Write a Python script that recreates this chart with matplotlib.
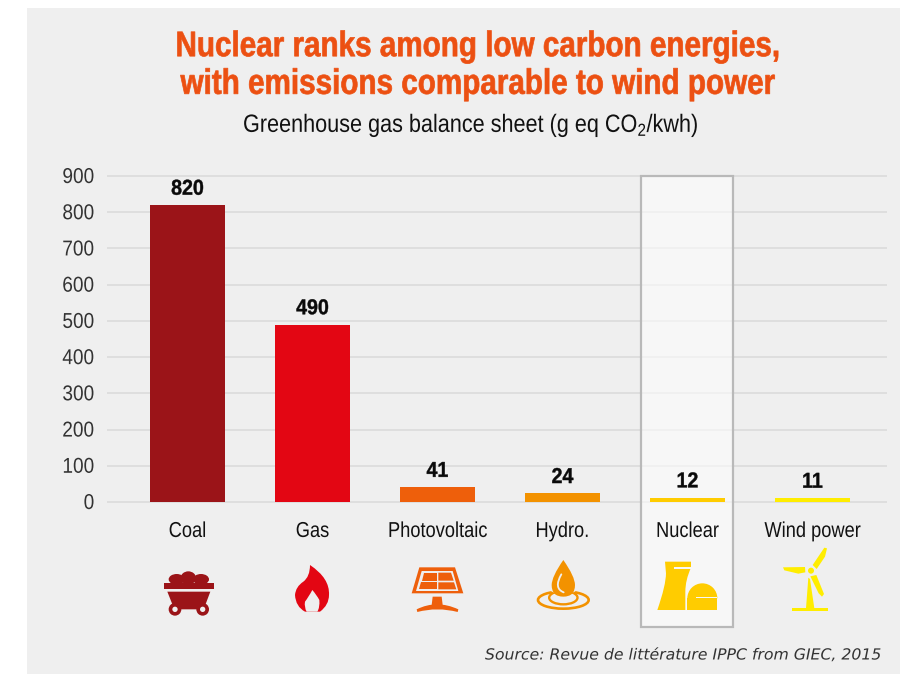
import matplotlib
matplotlib.use("Agg")
import matplotlib.pyplot as plt
from matplotlib.patches import Rectangle, Polygon, Circle, Ellipse, PathPatch, Wedge
from matplotlib.path import Path
from matplotlib.patheffects import AbstractPathEffect
from matplotlib.transforms import Affine2D

categories = ["Coal", "Gas", "Photovoltaic", "Hydro.", "Nuclear", "Wind power"]
values = [820, 490, 41, 24, 12, 11]
bar_colors = ["#9b1418", "#e30613", "#ee5f0b", "#f39200", "#ffcc00", "#ffed00"]
yticks = [0, 100, 200, 300, 400, 500, 600, 700, 800, 900]
title = "Nuclear ranks among low carbon energies,\nwith emissions comparable to wind power"
subtitle = "Greenhouse gas balance sheet (g eq CO$_2$/kwh)"
source = "Source: Revue de littérature IPPC from GIEC, 2015"

plt.rcParams["font.family"] = ["Liberation Sans", "DejaVu Sans"]
plt.rcParams["mathtext.default"] = "regular"

W, H = 900, 674
BG = "#efefef"
BOX = "#f7f7f7"
fig = plt.figure(figsize=(W / 100, H / 100), dpi=100, facecolor="white")


class Condense(AbstractPathEffect):
    """Draw text horizontally scaled about its alignment point (condensed face)."""

    def __init__(self, sx, align="center", dy=0, stroke=0):
        super().__init__()
        self.sx, self.align, self.dy, self.stroke = sx, align, dy, stroke

    def draw_path(self, renderer, gc, tpath, affine, rgbFace=None):
        xv = tpath.vertices[:, 0]
        if len(xv) == 0:
            return
        pivot = {"center": (xv.min() + xv.max()) / 2, "right": xv.max(), "left": xv.min()}[self.align]
        t = (Affine2D().translate(-pivot, 0).scale(self.sx, 1).translate(pivot, 0)
             + affine + Affine2D().translate(0, self.dy))
        gc0 = renderer.new_gc()
        gc0.copy_properties(gc)
        if self.stroke and rgbFace is not None:
            gc0.set_foreground(rgbFace)
            gc0.set_linewidth(self.stroke)
        else:
            gc0.set_linewidth(0)
        renderer.draw_path(gc0, tpath, t, rgbFace)
        gc0.restore()


def axes_px(l, t, r, b, **kw):
    return fig.add_axes([l / W, 1 - b / H, (r - l) / W, (b - t) / H], **kw)


# pixel-space layers
px = axes_px(0, 0, W, H, zorder=0)
px.set_xlim(0, W); px.set_ylim(H, 0); px.axis("off")
px.add_patch(Rectangle((27, 8), 873, 666, fc=BG, ec="none"))

ax = axes_px(107, 176, 887, 502, zorder=1)
ax.patch.set_alpha(0)
ov = axes_px(0, 0, W, H, zorder=2)
ov.set_xlim(0, W); ov.set_ylim(H, 0); ov.axis("off"); ov.patch.set_alpha(0)

# chart
xs = list(range(len(categories)))
ax.set_xlim(-0.644, 5.596)
ax.set_ylim(0, 900)
ax.set_yticks(yticks)
ax.set_xticks(xs, categories)
ax.hlines(yticks, -0.644, 5.596, color="#dadada", lw=1.1, zorder=1, clip_on=False)
ax.set_axisbelow(False)
for s in ax.spines.values():
    s.set_visible(False)
ax.tick_params(axis="y", length=0, pad=9, labelsize=15.5, labelcolor="#333333")
ax.tick_params(axis="x", length=0, pad=14, labelsize=15.5, labelcolor="#111111")
for t in ax.get_yticklabels():
    t.set_path_effects([Condense(0.885, "right", dy=1)])
for t in ax.get_xticklabels():
    t.set_path_effects([Condense(0.848, dy=0.5)])
ax.bar(xs, values, width=0.6, color=bar_colors, zorder=3)
for x, v in zip(xs, values):
    a = ax.annotate(str(v), (x, v), xytext=(0, 3.8), textcoords="offset points",
                    ha="center", va="bottom", fontsize=15.5, fontweight="bold",
                    color="#0a0a0a", zorder=4)
    a.set_path_effects([Condense(0.91, stroke=0.3)])

# highlight box around Nuclear
ax.add_patch(Rectangle((641, 176), 92, 451, transform=px.transData, clip_on=False,
                       fc=(1, 1, 1, 0.55), ec="#b9b9b9", lw=1.6, zorder=2))

# texts
ov.text(478, 65.5, title, ha="center", va="center", fontsize=25.5, fontweight="bold",
        color="#ec5012", linespacing=1.18, path_effects=[Condense(0.837, stroke=0.5)])
ov.text(471, 125, subtitle, ha="center", va="center", fontsize=18, color="#111111",
        path_effects=[Condense(0.865)])
ov.text(881, 655, source, ha="right", va="center", fontsize=11, style="italic",
        family="DejaVu Sans", color="#333333", path_effects=[Condense(1.027, "right")])


# icons (zoom-crop coordinates mapped to pixels)
def mapper(ox, oy):
    return lambda p: (ox + p[0] / 3, oy + p[1] / 3)


m1 = mapper(130, 510)
m_coal = mapper(155, 560)
m_wind = mapper(775, 555)
m_nuc = mapper(650, 555)
m_hyd = mapper(530, 555)


def poly(m, pts, c, **kw):
    ov.add_patch(Polygon([m(p) for p in pts], closed=True, fc=c, ec=kw.pop("ec", "none"), **kw))


def bez(m, verts, codes, c, **kw):
    kw.setdefault("ec", "none")
    ov.add_patch(PathPatch(Path([m(v) for v in verts], codes), fc=c, **kw))


def circ(m, p, r, fc):
    ov.add_patch(Circle(m(p), r / 3, fc=fc, ec="none"))


def ell(m, p, w, h, **kw):
    ov.add_patch(Ellipse(m(p), w / 3, h / 3, **kw))


M, C3, L, Z = Path.MOVETO, Path.CURVE3, Path.LINETO, Path.CLOSEPOLY

# coal cart
c = bar_colors[0]
ell(m_coal, (65, 58), 48, 32, fc=c, ec="none")
ell(m_coal, (100, 54), 46, 40, fc=c, ec="none")
ell(m_coal, (138, 58), 48, 32, fc=c, ec="none")
poly(m_coal, [(43, 63), (161, 63), (150, 48), (55, 48)], c)
poly(m_coal, [(26, 69), (178, 69), (178, 88), (26, 88)], c)
poly(m_coal, [(37, 95), (166, 95), (146, 148), (58, 148)], c)
for p in [(60, 148), (143, 148)]:
    circ(m_coal, p, 19, c)
    circ(m_coal, p, 8, BG)

# flame
c = bar_colors[1]
bez(m1, [(540, 165), (600, 205), (597, 255), (597, 285), (570, 305), (525, 305),
         (497, 290), (495, 255), (497, 230), (520, 215), (540, 200), (540, 165), (540, 165)],
    [M, C3, C3, C3, C3, L, C3, C3, C3, C3, C3, C3, Z], c)
bez(m1, [(547, 240), (535, 262), (525, 275), (522, 292), (530, 305), (562, 305),
         (570, 292), (568, 270), (560, 255), (547, 240), (547, 240)],
    [M, C3, C3, C3, C3, L, C3, C3, C3, C3, Z], BG)

# solar panel
c = bar_colors[2]
poly(m1, [(868, 172), (975, 172), (1000, 250), (845, 250)], c)
poly(m1, [(875, 183), (968, 183), (985, 243), (858, 243)], BG)
poly(m1, [(881, 188), (920, 188), (920, 212), (875, 212)], c)
poly(m1, [(925, 188), (963, 188), (971, 212), (925, 212)], c)
poly(m1, [(873, 217), (920, 217), (920, 238), (866, 238)], c)
poly(m1, [(925, 217), (972, 217), (979, 238), (925, 238)], c)
poly(m1, [(908, 260), (935, 260), (938, 285), (905, 285)], c)
bez(m1, [(860, 298), (920, 268), (985, 298), (983, 306), (922, 290), (862, 306), (860, 298)],
    [M, C3, C3, L, C3, C3, Z], c)

# hydro drop and ripples
c = bar_colors[3]
ell(m_hyd, (100, 135), 152, 52, fc="none", ec=c, lw=1.9)
ell(m_hyd, (100, 128), 85, 40, fc="none", ec=c, lw=1.7)
ell(m_hyd, (100, 100), 84, 34, fc=BG, ec="none")
bez(m_hyd, [(100, 15), (65, 65), (65, 90), (65, 125), (100, 125),
            (135, 125), (135, 90), (135, 65), (100, 15), (100, 15)],
    [M, C3, C3, C3, C3, C3, C3, C3, C3, Z], c, lw=1.2)
ov.add_patch(PathPatch(Path([m_hyd((94, 58)), m_hyd((70, 100)), m_hyd((101, 112))], [M, C3, C3]),
                       fc="none", ec=BG, lw=1.3, capstyle="round"))

# nuclear plant
c = bar_colors[4]
bez(m_nuc, [(45, 20), (123, 20), (123, 38), (106, 75), (106, 110), (106, 165),
            (22, 165), (48, 90), (48, 55), (45, 20), (45, 20)],
    [M, L, L, C3, C3, L, L, C3, C3, L, Z], c)
poly(m_nuc, [(72, 36), (123, 36), (123, 41), (72, 41)], BOX)
ov.add_patch(Wedge(m_nuc((157, 130)), 15, 180, 360, fc=c, ec="none"))
poly(m_nuc, [(112, 130), (202, 130), (202, 165), (112, 165)], c)
poly(m_nuc, [(137, 125), (202, 125), (202, 129), (137, 129)], BOX)

# wind turbine
c = bar_colors[5]
poly(m_wind, [(100, 68), (105, 72), (118, 160), (93, 160)], c)
poly(m_wind, [(50, 159), (160, 159), (160, 167), (50, 167)], c)
poly(m_wind, [(113, 30), (148, -22), (156, -20), (150, 5), (125, 42)], c)
poly(m_wind, [(24, 37), (90, 36), (91, 52), (70, 56), (28, 46)], c)
poly(m_wind, [(106, 64), (124, 60), (147, 117), (141, 125), (131, 115)], c)
circ(m_wind, (108, 47), 12, BG)
circ(m_wind, (108, 47), 9, c)

fig.savefig("out.png", dpi=100)
